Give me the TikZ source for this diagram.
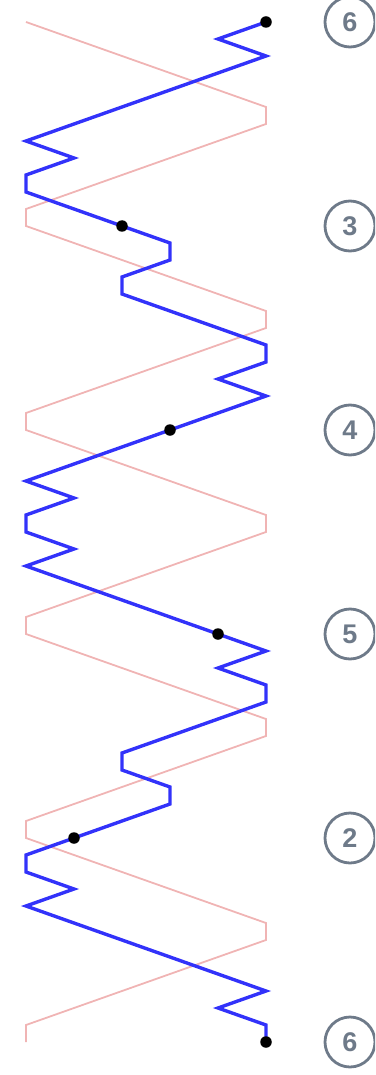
\documentclass[tikz,border=0pt]{standalone}
\usepackage{fontspec}
\setmainfont{Liberation Sans}
\definecolor{pinkc}{RGB}{240,180,180}
\definecolor{bluec}{RGB}{50,50,250}
\definecolor{grayc}{RGB}{110,122,137}
\begin{document}
\begin{tikzpicture}[x=1pt,y=1pt,
  pinkline/.style={draw=pinkc, line width=1.8pt, line join=miter},
  blueline/.style={draw=bluec, line width=3.4pt, line join=miter},
  dotnode/.style={circle, fill=black, inner sep=0pt, minimum size=11.5pt},
  numlabel/.style={circle, draw=grayc, line width=2.8pt, minimum size=50pt, inner sep=0pt, text=grayc, font=\fontsize{27}{27}\selectfont\bfseries}]
\useasboundingbox (0,0) rectangle (375,-1075);
\clip (0,0) rectangle (375,-1075);
\begin{scope}[shift={(26,-22)}, x=48pt, y=-17pt]
\draw[pinkline] (0,0) -- (5,5) -- (5,6) -- (0,11) -- (0,12) -- (5,17) -- (5,18) -- (0,23) -- (0,24) -- (5,29) -- (5,30) -- (0,35) -- (0,36) -- (5,41) -- (5,42) -- (0,47) -- (0,48) -- (5,53) -- (5,54) -- (0,59) -- (0,60);
\draw[blueline] (5,0) -- (4,1) -- (5,2) -- (0,7) -- (1,8) -- (0,9) -- (0,10) -- (3,13) -- (3,14) -- (2,15) -- (2,16) -- (5,19) -- (5,20) -- (4,21) -- (5,22) -- (0,27) -- (1,28) -- (0,29) -- (0,30) -- (1,31) -- (0,32) -- (5,37) -- (4,38) -- (5,39) -- (5,40) -- (2,43) -- (2,44) -- (3,45) -- (3,46) -- (0,49) -- (0,50) -- (1,51) -- (0,52) -- (5,57) -- (4,58) -- (5,59) -- (5,60);
\node[dotnode] (d1) at (5,0) {};
\node[dotnode] (d2) at (2,12) {};
\node[dotnode] (d3) at (3,24) {};
\node[dotnode] (d4) at (4,36) {};
\node[dotnode] (d5) at (1,48) {};
\node[dotnode] (d6) at (5,60) {};
\node[numlabel] (l1) at (6.75,0) {6};
\node[numlabel] (l2) at (6.75,12) {3};
\node[numlabel] (l3) at (6.75,24) {4};
\node[numlabel] (l4) at (6.75,36) {5};
\node[numlabel] (l5) at (6.75,48) {2};
\node[numlabel] (l6) at (6.75,60) {6};
\end{scope}
\end{tikzpicture}
\end{document}
